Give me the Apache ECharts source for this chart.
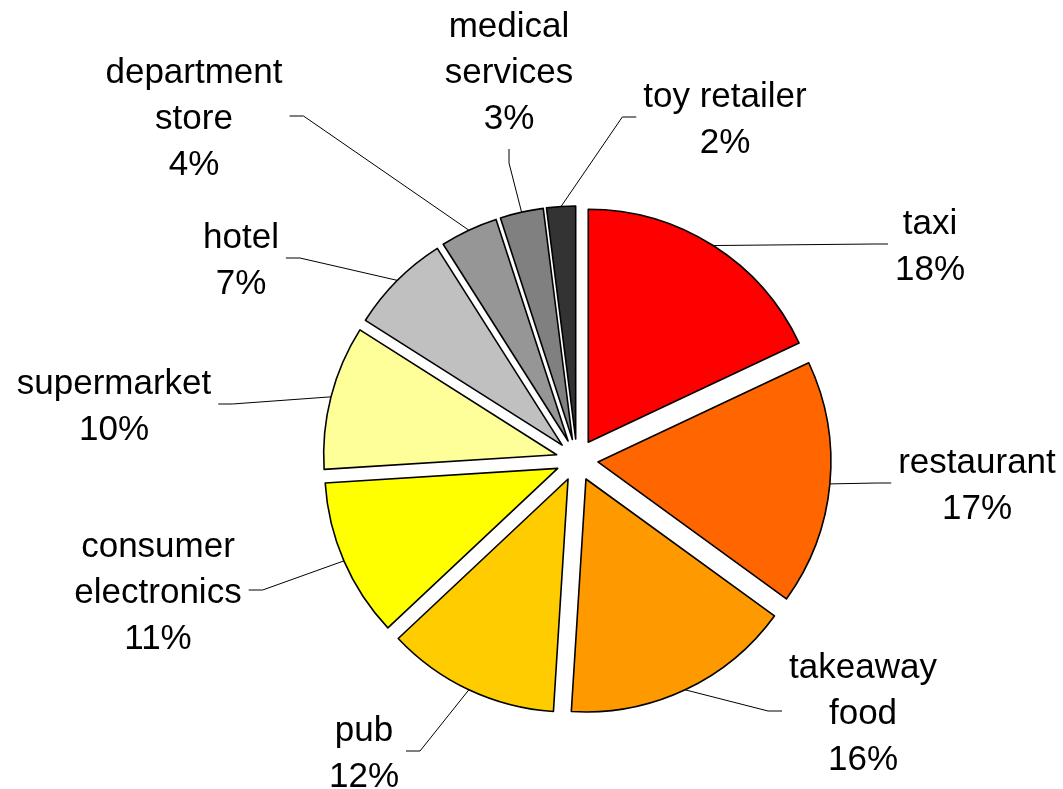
<!DOCTYPE html>
<html>
<head>
<meta charset="utf-8">
<script src="https://cdn.jsdelivr.net/npm/echarts@6/dist/echarts.min.js"></script>
<style>
  html, body { margin: 0; padding: 0; background: #ffffff; }
  #chart { width: 1063px; height: 789px; }
</style>
</head>
<body>
<div id="chart"></div>
<script>
// Spending share by merchant type, clockwise from 12 o'clock
const categories = ['taxi', 'restaurant', 'takeaway food', 'pub', 'consumer electronics',
                    'supermarket', 'hotel', 'department store', 'medical services', 'toy retailer'];
const shares = [18, 17, 16, 12, 11, 10, 7, 4, 3, 2];
const sliceColors = ['#FF0000', '#FF6600', '#FF9900', '#FFCC00', '#FFFF00',
                     '#FFFF99', '#C0C0C0', '#969696', '#808080', '#333333'];

// Label block centres, as offsets from the pie centre (px)
const labelOffsets = [[353, -213], [400, 26], [286, 254], [-213, 294], [-419, 133],
                      [-463, -53], [-336, -199], [-383, -341], [-68, -387], [148, -340]];

const CX = 577, CY = 460, R = 233, EXPLODE = 21;
const FONT_SIZE = 35, LINE_H = 46, WRAP_WIDTH = 200, STUB = 14, GAP = 7, STUB_RISE = 3;
const FONT_FAMILY = '"Liberation Sans", Arial, sans-serif';

// Greedy word wrap so long names break onto two lines
const measureCtx = document.createElement('canvas').getContext('2d');
measureCtx.font = FONT_SIZE + 'px ' + FONT_FAMILY;
function wrapName(name) {
  const words = name.split(' ');
  const lines = [];
  let cur = '';
  words.forEach(w => {
    const trial = cur ? cur + ' ' + w : w;
    if (cur && measureCtx.measureText(trial).width > WRAP_WIDTH) {
      lines.push(cur);
      cur = w;
    } else {
      cur = trial;
    }
  });
  if (cur) lines.push(cur);
  return lines.join('\n');
}

// Bisector angle of each slice (clockwise from 12 o'clock)
const total = shares.reduce((a, b) => a + b, 0);
const midAngles = [];
let acc = 0;
shares.forEach(v => { midAngles.push((acc + v / 2) / total * 2 * Math.PI); acc += v; });

// Centre of each exploded slice, pushed out along its bisector
function sliceCenter(i) {
  const a = midAngles[i];
  return [CX + EXPLODE * Math.sin(a), CY - EXPLODE * Math.cos(a)];
}

// Middle of the outer arc of an exploded slice
function arcMidPoint(i) {
  const a = midAngles[i];
  return [CX + (R + EXPLODE) * Math.sin(a), CY - (R + EXPLODE) * Math.cos(a)];
}

// Leader line: short stub off the nearest label edge, then straight to the arc
function leaderLayout(p) {
  const i = p.dataIndex;
  const w = p.labelRect.width, h = p.labelRect.height;
  const x = CX + labelOffsets[i][0];
  const y = CY + labelOffsets[i][1];
  const ys = y - STUB_RISE;
  const target = arcMidPoint(i);
  const candidates = [
    [[x - w / 2 - GAP, ys], [-1, 0]],
    [[x + w / 2 + GAP, ys], [1, 0]],
    [[x, y - h / 2 - GAP], [0, -1]],
    [[x, y + h / 2 + GAP], [0, 1]]
  ];
  let best = null, bestDist = Infinity;
  candidates.forEach(([p0, d]) => {
    const p1 = [p0[0] + d[0] * STUB, p0[1] + d[1] * STUB];
    const dist = Math.hypot(p1[0] - target[0], p1[1] - target[1]);
    if (dist < bestDist) { bestDist = dist; best = [p0, p1, target]; }
  });
  return { x: x, y: y, align: 'center', verticalAlign: 'middle', labelLinePoints: best };
}

const hidden = {
  itemStyle: { color: 'rgba(0,0,0,0)', borderWidth: 0 },
  label: { show: false },
  labelLine: { show: false }
};

// One pie per slice: the whole dataset lays out the angles, only slice i is drawn,
// and its centre is shifted outward to explode it.
const series = categories.map((_, i) => ({
  type: 'pie',
  center: sliceCenter(i),
  radius: R,
  startAngle: 90,
  clockwise: true,
  avoidLabelOverlap: false,
  silent: true,
  emphasis: { disabled: true },
  itemStyle: { borderColor: '#000000', borderWidth: 1.6 },
  label: {
    show: true,
    position: 'outside',
    color: '#000000',
    fontFamily: FONT_FAMILY,
    fontSize: FONT_SIZE,
    lineHeight: LINE_H,
    align: 'center',
    formatter: p => wrapName(p.name) + '\n' + Math.round(p.percent) + '%'
  },
  labelLine: {
    show: true,
    length: 20,
    length2: STUB,
    lineStyle: { color: '#000000', width: 1 }
  },
  labelLayout: leaderLayout,
  data: categories.map((name, j) => (j === i
    ? { name: name, value: shares[j], itemStyle: { color: sliceColors[j] } }
    : Object.assign({ name: name, value: shares[j] }, hidden)))
}));

const chart = echarts.init(document.getElementById('chart'), null, { renderer: 'canvas' });
chart.setOption({
  animation: false,
  backgroundColor: '#ffffff',
  series: series
});
</script>
</body>
</html>
